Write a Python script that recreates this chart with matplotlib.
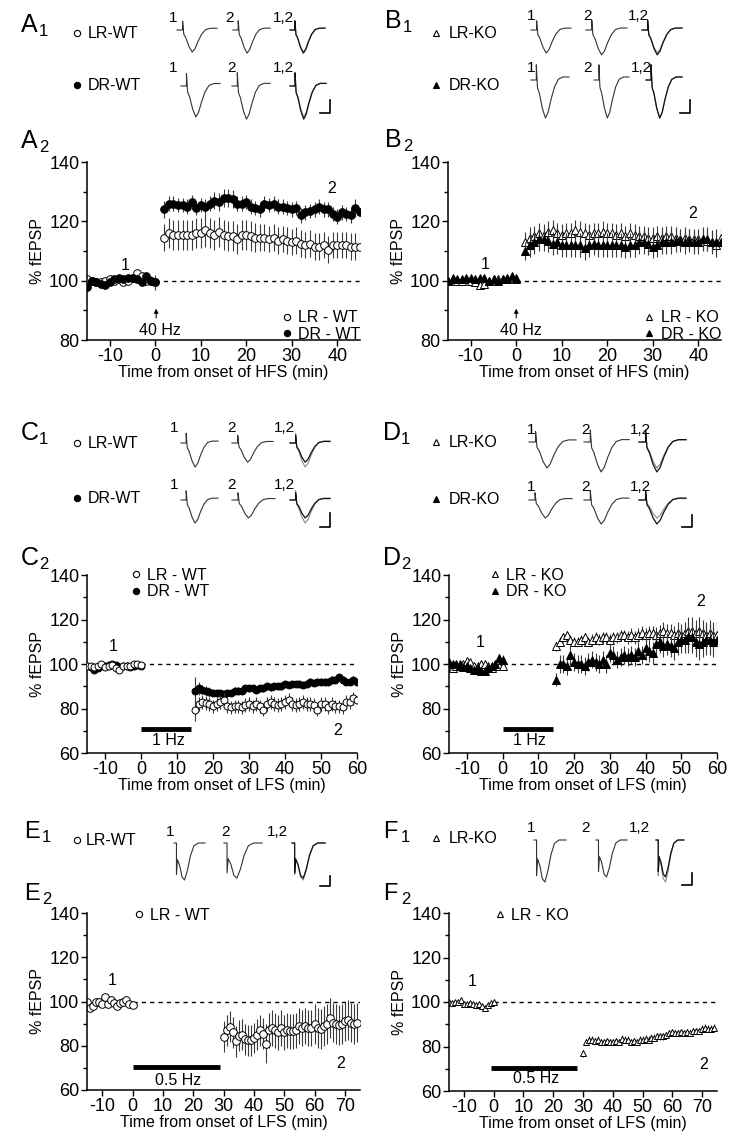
import numpy as np
import matplotlib
matplotlib.use('Agg')
import matplotlib.pyplot as plt
from matplotlib.lines import Line2D
from matplotlib.ticker import MultipleLocator

plt.rcParams.update({
    'font.family': ['Liberation Sans', 'DejaVu Sans'],
    'font.size': 11, 'axes.linewidth': 1.1, 'axes.unicode_minus': False,
})

# ---------------- data (min, % fEPSP) ----------------
t_base = np.arange(-15, 1)      # baseline samples
t_hfs = np.arange(2, 46)        # after 40 Hz HFS
t_lfs1 = np.arange(15, 61)      # after 1 Hz LFS
t_lfs05 = np.arange(30, 75)     # after 0.5 Hz LFS

# A2  LR-WT / DR-WT, HFS
a_lr_base = [100.5, 100, 99.5, 99.5, 100, 100.5, 100, 100.5, 99.5, 100, 101, 102.5, 101.5, 100, 100, 99.5]
a_dr_base = [98, 100, 99.5, 99, 98.5, 99.5, 100.5, 101, 100.5, 101, 101, 100.5, 99.5, 101.5, 100, 99.5]
a_lr_post = [114.5, 116, 115.5, 115.5, 115.5, 115.5, 115.5, 116, 116, 117,
             116, 115.5, 116.5, 115.5, 115, 115, 114, 115.5, 115.5, 115,
             114.5, 114.5, 114.5, 114, 114.5, 113.5, 114, 113.5, 113, 113.5,
             112.5, 112, 112.5, 111.5, 111.5, 112, 110.5, 112, 112, 112,
             112, 111.5, 111.5, 111.5]
a_dr_post = [124, 126, 126, 125.5, 125.5, 125, 126.5, 124.5, 125.5, 125,
             126, 127, 126.5, 128, 128, 127.5, 126, 126, 126.5, 125,
             124.5, 124, 126, 125.5, 126, 125, 125, 124.5, 124, 124.5,
             122, 123, 123.5, 124, 125, 124, 124, 122.5, 121.5, 123,
             122.5, 122, 124.5, 123]
a_lr_base_err = [1.2, 1, 1, 0.8, 1, 1, 1, 1.2, 1, 1, 1, 1.2, 1.5, 1.2, 1, 1]
a_dr_base_err = [1.5, 1, 1, 1, 1, 1, 1, 1, 1, 1, 1, 1, 1, 1, 1.5, 2.5]
a_lr_post_err = [4.5, 5, 5, 5, 5, 5, 5, 5, 5, 5.5,
                 5, 5, 5, 5, 5, 5, 5, 5, 5, 5,
                 5, 4.5, 4.5, 4.5, 4.5, 4.5, 4.5, 4.5, 4.5, 4.5,
                 4.5, 4.5, 4.5, 4.5, 4.5, 4.5, 4.5, 4.5, 4.5, 4.5,
                 4.5, 4.5, 4.5, 4.5]
a_dr_post_err = [3, 2.5, 2.5, 2.5, 2.5, 2.5, 2.5, 2.5, 2.5, 2.5,
                 2.5, 3, 3, 3, 3, 3, 2.5, 2.5, 2.5, 2.5,
                 2.5, 2.5, 2.5, 2.5, 2.5, 2.5, 2.5, 2.5, 2.5, 2.5,
                 2.5, 2.5, 2.5, 2.5, 2.5, 2.5, 2.5, 2.5, 2.5, 2.5,
                 2.5, 2.5, 3, 3]

# B2  LR-KO / DR-KO, HFS
b_lr_base = [100, 100.5, 100, 100, 100.5, 100, 99.5, 98.5, 99, 100, 100.5, 100.5, 100.5, 100.5, 101, 100.5]
b_dr_base = [100, 101, 100.5, 100.5, 101, 101, 100.5, 101, 101, 100, 100.5, 100, 100.5, 101, 101.5, 101]
b_lr_post = [113, 114.5, 115, 116, 115.5, 116.5, 117, 116, 115.5, 116,
             116, 117, 116.5, 116, 115.5, 116, 116, 116.5, 116, 116,
             115.5, 116, 115, 116, 115.5, 115, 115, 114.5, 114.5, 115,
             114.5, 115, 115, 114.5, 114, 114.5, 114, 114, 114, 114,
             113.5, 113, 112, 114.5]
b_dr_post = [110, 112, 113, 114, 114, 113.5, 112.5, 113, 112, 112,
             112, 112, 112, 111, 112, 112.5, 112, 112, 112, 112,
             112, 112, 111.5, 112, 112, 113, 113, 112.5, 111.5, 112,
             113, 113, 113, 113.5, 113.5, 113, 113.5, 113, 113, 114,
             114, 113, 113, 113]
b_lr_base_err = [0.8, 0.8, 0.8, 0.8, 0.8, 0.8, 0.8, 1, 0.8, 0.8, 0.8, 0.8, 0.8, 0.8, 0.8, 0.8]
b_dr_base_err = [0.8, 0.8, 0.8, 0.8, 0.8, 0.8, 0.8, 0.8, 0.8, 0.8, 0.8, 0.8, 0.8, 0.8, 1, 0.8]
b_lr_post_err = [3.5, 3.5, 3.5, 3.5, 3.5, 3.5, 3.5, 3.5, 3.5, 3.5,
                 3.5, 3.5, 3.5, 3.5, 3.5, 3.5, 3.5, 3.5, 3.5, 3.5,
                 3.5, 3.5, 3.5, 3.5, 3.5, 3.5, 3.5, 3.5, 3.5, 3.5,
                 3.5, 3.5, 3.5, 3.5, 3.5, 3.5, 3.5, 3.5, 3.5, 3.5,
                 3.5, 3.5, 4, 3.5]
b_dr_post_err = [3, 4, 4, 4, 4, 4, 4, 4, 4, 4,
                 4, 4, 4, 4, 4, 4, 4, 4, 4, 4,
                 4, 4, 4, 4, 4, 4, 4, 4, 4, 4,
                 4, 4, 4, 4, 4, 4, 4, 4, 4, 4,
                 4, 4, 4.5, 4]

# C2  LR-WT / DR-WT, 1 Hz LFS
c_lr_base = [99, 99, 98.5, 99, 100, 98.5, 99, 99.5, 98, 97.5, 99, 99, 99, 100, 100, 99.5]
c_dr_base = [99, 98.5, 97.5, 98, 99, 99, 99.5, 100, 99.5, 98.5, 99, 99, 98.5, 99, 99.5, 99]
c_lr_post = [79.5, 82, 83, 82.5, 82, 81, 82, 83, 84, 81,
             80.5, 81, 81, 80.5, 81.5, 82, 81, 82, 81, 79.5,
             82, 83, 82, 81.5, 82, 83, 84, 82, 81.5, 82,
             83, 82, 82, 81.5, 79.5, 82, 82, 80.5, 82, 81,
             81, 80.5, 83, 83, 84.5, 84]
c_dr_post = [88, 89, 88.5, 88, 87.5, 87, 87, 87, 86.5, 87,
             87, 88, 88, 88, 89, 89, 89, 88.5, 89, 89,
             90, 89.5, 90, 90, 90, 91, 90.5, 91, 91, 91,
             90.5, 91, 92, 91.5, 92, 92, 92, 92, 93, 93,
             94, 93, 92, 92, 93, 92]
c_lr_base_err = [0.8, 0.8, 0.8, 0.8, 0.8, 0.8, 0.8, 0.8, 0.8, 0.8, 0.8, 0.8, 0.8, 0.8, 0.8, 0.8]
c_dr_base_err = [0.6, 0.6, 0.6, 0.6, 0.6, 0.6, 0.6, 0.6, 0.6, 0.6, 0.6, 0.6, 0.6, 0.6, 0.6, 0.6]
c_lr_post_err = [5, 3, 3, 3, 3, 3, 3, 3, 3, 3,
                 3, 3, 3, 3, 3, 3, 3, 3, 3, 3,
                 3, 3, 3, 3, 3, 3, 3, 3, 3, 3,
                 3, 3, 3, 3, 3, 3, 3, 3, 3, 3,
                 3, 3, 3, 3, 3, 3]
c_dr_post_err = [6, 3, 2, 2, 2, 1.5, 1.5, 1.5, 1.5, 1.5,
                 1.5, 1.5, 1.5, 1.5, 1.5, 1.5, 1.5, 1.5, 1.5, 1.5,
                 1.5, 1.5, 1.5, 1.5, 1.5, 1.5, 1.5, 1.5, 1.5, 1.5,
                 1.5, 1.5, 1.5, 1.5, 1.5, 1.5, 1.5, 1.5, 1.5, 1.5,
                 1.5, 1.5, 1.5, 1.5, 1.5, 1.5]

# D2  LR-KO / DR-KO, 1 Hz LFS
d_lr_base = [99, 98, 99, 100, 100, 101.5, 101, 99, 99, 100, 100, 99, 98, 99, 99, 99]
d_dr_base = [101, 100, 100, 99.5, 98.5, 99, 98, 97.5, 98, 97, 97, 98, 99, 100, 102.5, 102]
d_lr_post = [108, 110, 112, 113, 111, 110, 110, 111, 112, 110,
             111, 112, 111, 112, 112, 111, 112, 112, 113, 113,
             112, 113, 112, 113, 114, 113, 114, 114, 113, 114,
             115, 114, 114, 113, 114, 113, 114, 115, 115, 114,
             115, 114, 113, 114, 113, 113]
d_dr_post = [93, 100, 100, 99, 104, 101, 100, 100, 99, 101,
             102, 101, 100, 102, 100, 105, 104, 102, 103, 104,
             103, 104, 103, 106, 104, 107, 106, 105, 109, 110,
             108, 109, 108, 107, 110, 111, 111, 112, 112, 110,
             109, 110, 111, 111, 110, 111]
d_lr_base_err = [1, 1, 1, 1, 1, 1, 1, 1, 1, 1, 1, 1, 1, 1, 1, 1]
d_dr_base_err = [1.5, 1.5, 1.5, 1.5, 1.5, 1.5, 1.5, 1.5, 1.5, 1.5, 1.5, 1.5, 1.5, 1.5, 2, 2]
d_lr_post_err = [2, 2, 2, 2, 2, 2, 2, 2, 2, 2,
                 2.5, 2.5, 2.5, 2.5, 2.5, 2.5, 2.5, 2.5, 2.5, 2.5,
                 3, 3, 3, 3, 3, 3, 3, 3, 3.5, 3.5,
                 4, 4, 4, 4, 5, 5, 5, 6, 6, 6,
                 6, 6, 6, 6, 6, 6]
d_dr_post_err = [3, 4, 4, 4, 4, 4, 4, 4, 4, 4,
                 4, 4, 4, 4, 4, 4, 4, 4, 4, 4,
                 4, 4, 4, 4, 4, 5, 5, 5, 5, 5,
                 5, 5, 5, 5, 6, 6, 6, 7, 7, 7,
                 7, 7, 7, 7, 7, 7]

# E2  LR-WT, 0.5 Hz LFS
e_lr_base = [100, 97, 98, 100, 100, 99, 102, 99, 100.5, 99.5, 98, 99.5, 100, 100.5, 99, 98.5]
e_lr_post = [84, 87, 88.5, 86, 82, 84.5, 85, 83, 82.5, 82.5,
             83.5, 85, 87, 85.5, 81, 87, 88, 87, 86, 88,
             86, 87, 86.5, 86.5, 87, 89, 88, 89, 88, 88,
             90, 88, 87.5, 89, 90, 92.5, 90.5, 90, 89.5, 90,
             91, 91.5, 90.5, 90, 90.5]
e_lr_base_err = [1.5, 1.5, 1.5, 1.5, 1.5, 1.5, 1.5, 1.5, 1.5, 1.5, 1.5, 1.5, 1.5, 1.5, 1.5, 1.5]
e_lr_post_err = [7, 7, 7, 7, 7, 7, 7, 7, 7, 7,
                 7, 7, 7, 7, 9, 8, 8, 8, 8, 8,
                 8, 8, 8, 8, 8, 8, 8, 8, 8, 8,
                 9, 9, 9, 9, 9, 9, 9, 9, 9, 9,
                 9, 9, 9, 9, 9]

# F2  LR-KO, 0.5 Hz LFS
f_lr_base = [100, 99.5, 100, 100, 101, 99, 99, 99.5, 99, 98.5, 99, 98, 97.5, 98.5, 99.5, 100]
f_lr_post = [77, 82, 83, 83, 82.5, 83, 82, 82, 82.5, 82,
             82, 82.5, 82, 83.5, 83, 83, 82, 82.5, 82, 83,
             83, 83.5, 83, 84, 84, 84.5, 84.5, 84.5, 85, 86,
             86.5, 86, 86, 86.5, 86, 86.5, 86, 87, 87, 87,
             88, 88.5, 88, 88, 88.5]
f_lr_base_err = [0.8, 0.8, 0.8, 0.8, 0.8, 0.8, 0.8, 0.8, 0.8, 0.8, 0.8, 0.8, 0.8, 0.8, 0.8, 0.8]
f_lr_post_err = [1.5, 1.5, 1.5, 1.5, 1.5, 1.5, 1.5, 1.5, 1.5, 1.5,
                 1.5, 1.5, 1.5, 1.5, 1.5, 1.5, 1.5, 1.5, 1.5, 1.5,
                 1.5, 1.5, 1.5, 1.5, 1.5, 1.5, 1.5, 1.5, 1.5, 1.5,
                 1.5, 1.5, 1.5, 1.5, 1.5, 1.5, 1.5, 1.5, 1.5, 1.5,
                 1.5, 1.5, 1.5, 1.5, 1.5]

# example fEPSP waveforms (normalised time, normalised amplitude)
wave_t = [0, .14, .14, .17, .22, .30, .38, .45, .53, .62, .72, .84, 1]
wave_v = [0, 0, .40, -.20, -.35, -.75, -1.0, -.85, -.50, -.18, .02, .08, .08]
deep_t = [0, .08, .08, .11, .18, .26, .34, .43, .53, .64, .78, 1]
deep_v = [0, 0, -.85, -.45, -.60, -.92, -1.0, -.75, -.35, -.08, 0, 0]
# trough depth of traces 1 and 2 for each example row (relative units)
amp_A_lr = [1.0, 1.05]
amp_A_dr = [1.0, 1.07]
amp_B_lr = [1.0, 1.08]
amp_B_dr = [1.0, 1.0]
amp_C_lr = [1.0, 0.80]
amp_C_dr = [1.0, 0.78]
amp_D_lr = [1.0, 1.15]
amp_D_dr = [1.0, 1.33]
amp_E_lr = [1.0, 0.95]
amp_F_lr = [1.0, 0.88]

W, H = 738, 1138
fig = plt.figure(figsize=(W / 100, H / 100), dpi=100)

# overlay layer in pixel coordinates for labels and example traces
lay = fig.add_axes([0, 0, 1, 1])
lay.set_xlim(0, W); lay.set_ylim(H, 0); lay.axis('off')


def px_axes(x0, y0, x1, y1):
    return fig.add_axes([x0 / W, 1 - y1 / H, (x1 - x0) / W, (y1 - y0) / H])


def letter(x, y, L, sub, big=18):
    lay.text(x, y, L, fontsize=big, va='baseline', ha='left')
    lay.text(x + 18, y + 4, sub, fontsize=12, va='baseline', ha='left')


def row_key(x, y, marker, filled, label, tx):
    lay.plot([x], [y], marker=marker, ms=4.5, mfc='k' if filled else 'white', mec='k', mew=0.8, ls='none')
    lay.text(tx, y, label, fontsize=11.5, va='center', ha='left')


def traces(spans, y0, depth, amps, labx, laby, shape=(wave_t, wave_v)):
    st, sv = np.array(shape[0]), np.array(shape[1])
    for i, (x0, x1) in enumerate(spans):
        xs = x0 + st * (x1 - x0)
        if i == 0:
            lay.plot(xs, y0 - sv * depth * amps[0], color='#333', lw=0.8)
        elif i == 1:
            lay.plot(xs, y0 - sv * depth * amps[1], color='#333', lw=0.8)
        else:
            lay.plot(xs, y0 - sv * depth * amps[0], color='#888', lw=0.8)
            lay.plot(xs, y0 - sv * depth * amps[1], color='#111', lw=0.9)
    for x, s in zip(labx, ['1', '2', '1,2']):
        lay.text(x, laby, s, fontsize=11, ha='center', va='center')


def scalebar(x, y0, y1, w=10):
    lay.plot([x - w, x, x], [y1, y1, y0], color='k', lw=1.2)


def panel(box, xlim, xticks, ylim, yticks, xlabel):
    ax = px_axes(*box)
    ax.set_xlim(*xlim); ax.set_ylim(*ylim)
    for s in ['top', 'right']:
        ax.spines[s].set_visible(False)
    ax.set_xticks(xticks); ax.set_yticks(yticks)
    ax.yaxis.set_minor_locator(MultipleLocator(10))
    ax.tick_params(direction='out', length=4, width=1, labelsize=13, pad=1.5)
    ax.tick_params(which='minor', direction='out', length=3, width=1)
    ax.set_ylabel('% fEPSP', fontsize=11.5, labelpad=3)
    ax.set_xlabel(xlabel, fontsize=11.5, labelpad=0)
    ax.plot([0, xlim[1]], [100, 100], ls=(0, (3, 3)), color='k', lw=1, zorder=1)
    return ax


def series(ax, t, y, e, marker, filled, ms, z):
    t = np.asarray(t); y = np.asarray(y); e = np.asarray(e)
    ax.vlines(t, y - e, y + e, color='#3a3a3a', lw=0.8, zorder=z)
    ax.plot(t, y, ls='none', marker=marker, ms=ms, mfc='k' if filled else 'white',
            mec='k', mew=0.7, zorder=z + 0.5)


def key(ax, items, anchor, loc):
    hs = [Line2D([], [], ls='none', marker=m, ms=4.5, mfc='k' if f else 'white', mec='k', mew=0.8)
          for m, f, _ in items]
    ax.legend(hs, [l for _, _, l in items], loc=loc, bbox_to_anchor=anchor, frameon=False,
              fontsize=11.5, handlelength=0.7, handletextpad=0.35, labelspacing=0.1,
              borderpad=0, borderaxespad=0)


tb = t_base

# ---------- A ----------
letter(21, 32, 'A', '1'); letter(21, 148, 'A', '2')
row_key(77, 33, 'o', False, 'LR-WT', 88); row_key(77, 85, 'o', True, 'DR-WT', 88)
traces([(177, 217), (233, 270), (290, 325)], 30, 22, amp_A_lr, [173, 229, 283], 18)
traces([(181, 220), (232, 270), (290, 326)], 86, 31, amp_A_dr, [173, 231, 283], 68)
scalebar(330, 100, 113)
ax = panel((87, 162, 360, 340), (-15, 45), range(-10, 41, 10), (80, 140), [80, 100, 120, 140],
           'Time from onset of HFS (min)')
series(ax, np.r_[tb, t_hfs], a_lr_base + a_lr_post, a_lr_base_err + a_lr_post_err, 'o', False, 5.5, 2)
series(ax, np.r_[tb, t_hfs], a_dr_base + a_dr_post, a_dr_base_err + a_dr_post_err, 'o', True, 5.5, 3)
ax.text(-6.6, 105, '1', fontsize=11.5, ha='center', va='center')
ax.text(38.8, 131, '2', fontsize=11.5, ha='center', va='center')
ax.annotate('', xy=(0.2, 91.5), xytext=(0.2, 86.5),
            arrowprops=dict(arrowstyle='-|>', lw=0.8, color='k', mutation_scale=6))
ax.text(1, 83.3, '40 Hz', fontsize=11.5, ha='center', va='center')
key(ax, [('o', False, 'LR - WT'), ('o', True, 'DR - WT')], (1.0, -0.01), 'lower right')

# ---------- B ----------
letter(385, 28, 'B', '1'); letter(385, 147, 'B', '2')
row_key(436, 33, '^', False, 'LR-KO', 449); row_key(436, 85, '^', True, 'DR-KO', 449)
traces([(531, 571), (586, 627), (642, 682)], 30, 23, amp_B_lr, [531, 587, 638], 16)
traces([(531, 569), (594, 629), (646, 682)], 80, 38, amp_B_dr, [531, 588, 641], 68)
scalebar(690, 100, 113)
ax = panel((448, 162, 721, 340), (-15, 45), range(-10, 41, 10), (80, 140), [80, 100, 120, 140],
           'Time from onset of HFS (min)')
series(ax, np.r_[tb, t_hfs], b_lr_base + b_lr_post, b_lr_base_err + b_lr_post_err, '^', False, 5.5, 2)
series(ax, np.r_[tb, t_hfs], b_dr_base + b_dr_post, b_dr_base_err + b_dr_post_err, '^', True, 5.5, 3)
ax.text(-6.9, 105.4, '1', fontsize=11.5, ha='center', va='center')
ax.text(38.8, 122.8, '2', fontsize=11.5, ha='center', va='center')
ax.annotate('', xy=(0, 91.5), xytext=(0, 86.5),
            arrowprops=dict(arrowstyle='-|>', lw=0.8, color='k', mutation_scale=6))
ax.text(1, 83.3, '40 Hz', fontsize=11.5, ha='center', va='center')
key(ax, [('^', False, 'LR - KO'), ('^', True, 'DR - KO')], (1.0, -0.01), 'lower right')

# ---------- C ----------
letter(21, 440, 'C', '1'); letter(21, 565, 'C', '2')
row_key(77, 443, 'o', False, 'LR-WT', 88); row_key(77, 498, 'o', True, 'DR-WT', 88)
traces([(181, 218), (232, 273), (290, 330)], 443, 24, amp_C_lr, [174, 232, 284], 428)
traces([(181, 218), (232, 275), (290, 330)], 500, 23, amp_C_dr, [174, 232, 284], 485)
scalebar(330, 513, 527)
ax = panel((87, 575, 357, 753), (-15, 60), range(-10, 61, 10), (60, 140), [60, 80, 100, 120, 140],
           'Time from onset of LFS (min)')
series(ax, np.r_[tb, t_lfs1], c_dr_base + c_dr_post, c_dr_base_err + c_dr_post_err, 'o', True, 5, 2)
series(ax, np.r_[tb, t_lfs1], c_lr_base + c_lr_post, c_lr_base_err + c_lr_post_err, 'o', False, 5, 3)
ax.plot([0, 14], [71, 71], color='k', lw=3.5, solid_capstyle='butt')
ax.text(7.5, 65.5, '1 Hz', fontsize=11.5, ha='center', va='center')
ax.text(-7.8, 108, '1', fontsize=11.5, ha='center', va='center')
ax.text(54.7, 70.3, '2', fontsize=11.5, ha='center', va='center')
key(ax, [('o', False, 'LR - WT'), ('o', True, 'DR - WT')], (0.16, 1.04), 'upper left')

# ---------- D ----------
letter(383, 440, 'D', '1'); letter(383, 565, 'D', '2')
row_key(436, 442, '^', False, 'LR-KO', 449); row_key(436, 499, '^', True, 'DR-KO', 449)
traces([(529, 576), (584, 629), (639, 686)], 442, 26, amp_D_lr, [531, 586, 640], 430)
traces([(529, 572), (584, 629), (639, 686)], 500, 18, amp_D_dr, [531, 586, 640], 487)
scalebar(692, 515, 527)
ax = panel((449, 575, 717, 753), (-15, 60), range(-10, 61, 10), (60, 140), [60, 80, 100, 120, 140],
           'Time from onset of LFS (min)')
series(ax, np.r_[tb, t_lfs1], d_lr_base + d_lr_post, d_lr_base_err + d_lr_post_err, '^', False, 5.5, 2)
series(ax, np.r_[tb, t_lfs1], d_dr_base + d_dr_post, d_dr_base_err + d_dr_post_err, '^', True, 5.5, 3)
ax.plot([0, 14], [71, 71], color='k', lw=3.5, solid_capstyle='butt')
ax.text(7.5, 65.5, '1 Hz', fontsize=11.5, ha='center', va='center')
ax.text(-6.3, 109.5, '1', fontsize=11.5, ha='center', va='center')
ax.text(55.3, 127.9, '2', fontsize=11.5, ha='center', va='center')
key(ax, [('^', False, 'LR - KO'), ('^', True, 'DR - KO')], (0.15, 1.04), 'upper left')

# ---------- E ----------
letter(24, 838, 'E', '1', 17); letter(24, 900, 'E', '2', 17)
row_key(77, 840, 'o', False, 'LR-WT', 86)
traces([(174, 205), (224, 262), (292, 325)], 843, 37, amp_E_lr, [170, 225, 277], 832, (deep_t, deep_v))
scalebar(330, 876, 886)
ax = panel((87, 913, 360, 1090), (-15, 75), range(-10, 71, 10), (60, 140), [60, 80, 100, 120, 140],
           'Time from onset of LFS (min)')
series(ax, np.r_[tb, t_lfs05], e_lr_base + e_lr_post, e_lr_base_err + e_lr_post_err, 'o', False, 5.5, 2)
ax.plot([0, 29], [70.5, 70.5], color='k', lw=3.5, solid_capstyle='butt')
ax.text(15, 64.5, '0.5 Hz', fontsize=11.5, ha='center', va='center')
ax.text(-6.7, 109.5, '1', fontsize=11.5, ha='center', va='center')
ax.text(68.5, 72.2, '2', fontsize=11.5, ha='center', va='center')
key(ax, [('o', False, 'LR - WT')], (0.17, 1.03), 'upper left')

# ---------- F ----------
letter(383, 838, 'F', '1', 17); letter(383, 900, 'F', '2', 17)
row_key(436, 838, '^', False, 'LR-KO', 449)
traces([(534, 566), (596, 627), (656, 684)], 840, 42, amp_F_lr, [531, 586, 639], 828, (deep_t, deep_v))
scalebar(692, 873, 885)
ax = panel((449, 913, 717, 1091), (-15, 75), range(-10, 71, 10), (60, 140), [60, 80, 100, 120, 140],
           'Time from onset of LFS (min)')
series(ax, np.r_[tb, t_lfs05], f_lr_base + f_lr_post, f_lr_base_err + f_lr_post_err, '^', False, 4.5, 2)
ax.plot([-1, 28], [70.5, 70.5], color='k', lw=3.5, solid_capstyle='butt')
ax.text(14.4, 65.5, '0.5 Hz', fontsize=11.5, ha='center', va='center')
ax.text(-7.3, 109, '1', fontsize=11.5, ha='center', va='center')
ax.text(70.6, 72, '2', fontsize=11.5, ha='center', va='center')
key(ax, [('^', False, 'LR - KO')], (0.168, 1.03), 'upper left')

fig.savefig('out.png', dpi=100)
